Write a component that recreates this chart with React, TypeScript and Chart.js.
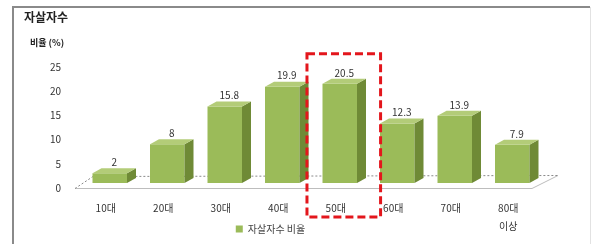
import React, { useEffect, useRef } from "react";
import { Chart, registerables } from "chart.js";

Chart.register(...registerables);

const categories: (string | string[])[] = ["10대", "20대", "30대", "40대", "50대", "60대", "70대", ["80대", "이상"]];
const values: number[] = [2, 8, 15.8, 19.9, 20.5, 12.3, 13.9, 7.9];
const valueLabels: string[] = ["2", "8", "15.8", "19.9", "20.5", "12.3", "13.9", "7.9"];
const seriesName = "자살자수 비율";
const chartTitle = "자살자수";
const axisTitle = "비율 (%)";
const highlightIndex = 4;

const FONT = "'Noto Sans CJK KR', 'Noto Sans', sans-serif";
const DX = 9;
const DY = -5;

const decorPlugin = {
  id: "decor",
  beforeDraw(chart: any) {
    const { ctx, chartArea, scales } = chart;
    const y = scales.y;
    ctx.save();
    ctx.fillStyle = "#ffffff";
    ctx.fillRect(0, 0, chart.width, chart.height);
    // frame
    ctx.strokeStyle = "#8a8a8a";
    ctx.lineWidth = 2;
    ctx.beginPath();
    ctx.moveTo(13, chart.height);
    ctx.lineTo(13, 7);
    ctx.lineTo(590, 7);
    ctx.stroke();
    ctx.strokeStyle = "#e2e2e2";
    ctx.lineWidth = 1;
    ctx.beginPath();
    ctx.moveTo(590.5, 7);
    ctx.lineTo(590.5, chart.height);
    ctx.stroke();
    // titles
    ctx.fillStyle = "#222";
    ctx.font = `bold 12px ${FONT}`;
    ctx.textBaseline = "middle";
    ctx.fillText(chartTitle, 24, 17);
    ctx.font = `bold 9px ${FONT}`;
    ctx.fillText(axisTitle, 30, 43);
    // floor
    const base = y.getPixelForValue(0);
    const fl = chartArea.left - 6;
    const fr = chartArea.right - 9;
    const front = base + 5;
    const back = base - 8;
    ctx.strokeStyle = "#bdbdbd";
    ctx.lineWidth = 1;
    ctx.beginPath();
    ctx.moveTo(fl, front + 0.5);
    ctx.lineTo(fr, front + 0.5);
    ctx.lineTo(fr + 26, back + 0.5);
    ctx.stroke();
    ctx.setLineDash([2, 2]);
    ctx.strokeStyle = "#8a8a8a";
    ctx.beginPath();
    ctx.moveTo(fl, front + 0.5);
    ctx.lineTo(fl + 18, back + 1.5);
    ctx.lineTo(fr + 26, back + 0.5);
    ctx.stroke();
    ctx.restore();
  },
  afterDatasetsDraw(chart: any) {
    const { ctx, scales, chartArea } = chart;
    const meta = chart.getDatasetMeta(0);
    ctx.save();
    meta.data.forEach((bar: any, i: number) => {
      const p = bar.getProps(["x", "y", "base", "width"], true);
      const l = p.x - p.width / 2;
      const r = p.x + p.width / 2;
      // side
      ctx.fillStyle = "#6f8a36";
      ctx.beginPath();
      ctx.moveTo(r, p.y);
      ctx.lineTo(r + DX, p.y + DY);
      ctx.lineTo(r + DX, p.base + DY);
      ctx.lineTo(r, p.base);
      ctx.closePath();
      ctx.fill();
      // top
      ctx.fillStyle = "#b3cc78";
      ctx.beginPath();
      ctx.moveTo(l, p.y);
      ctx.lineTo(l + DX, p.y + DY);
      ctx.lineTo(r + DX, p.y + DY);
      ctx.lineTo(r, p.y);
      ctx.closePath();
      ctx.fill();
      // value label
      ctx.fillStyle = "#333";
      ctx.font = `10px ${FONT}`;
      ctx.textAlign = "center";
      ctx.textBaseline = "middle";
      ctx.fillText(valueLabels[i], p.x + DX / 2, p.y + DY - 6);
    });
    // highlight box
    const x = scales.x;
    const y = scales.y;
    const step = x.getPixelForValue(1) - x.getPixelForValue(0);
    const cx = x.getPixelForValue(highlightIndex);
    const top = y.getPixelForValue(26.7);
    ctx.strokeStyle = "#e3161c";
    ctx.lineWidth = 3;
    ctx.setLineDash([8, 4]);
    ctx.strokeRect(cx - step * 0.57, top, step * 1.28, chartArea.bottom + 34 - top);
    ctx.restore();
  },
};

export default function App() {
  const ref = useRef<HTMLCanvasElement | null>(null);
  useEffect(() => {
    if (!ref.current) return;
    const chart = new Chart(ref.current, {
      type: "bar",
      data: {
        labels: categories as any,
        datasets: [
          {
            label: seriesName,
            data: values,
            backgroundColor: "#9bbb59",
            borderWidth: 0,
            barPercentage: 0.6,
            categoryPercentage: 1,
          },
        ],
      },
      options: {
        animation: false,
        responsive: false,
        layout: { padding: { top: 62, right: 57, left: 0, bottom: 0 } },
        plugins: {
          legend: {
            position: "bottom",
            labels: {
              boxWidth: 7,
              boxHeight: 7,
              padding: 3,
              color: "#444",
              font: { family: FONT, size: 10 },
            },
          },
          tooltip: { enabled: false },
        },
        scales: {
          x: {
            grid: { display: false, drawTicks: false },
            border: { display: false },
            ticks: {
              color: "#333",
              padding: 16,
              labelOffset: -4,
              font: { family: FONT, size: 10, lineHeight: 1.8 },
              maxRotation: 0,
            },
            afterFit: (s: any) => {
              s.height = 38;
              s._computeLabelArea = () => undefined;
            },
          },
          y: {
            min: 0,
            max: 25,
            grid: { display: false, drawTicks: false },
            border: { display: false },
            ticks: {
              stepSize: 5,
              padding: 20,
              labelOffset: 5,
              color: "#333",
              font: { family: FONT, size: 10 },
            },
            afterFit: (s: any) => {
              s.width = 81;
            },
          },
        },
      },
      plugins: [decorPlugin],
    });
    return () => chart.destroy();
  }, []);
  return (
    <div style={{ position: "fixed", left: 0, top: 0, width: 598, height: 244, background: "#fff" }}>
      <canvas ref={ref} width={598} height={244} style={{ display: "block", width: 598, height: 244 }} />
    </div>
  );
}
